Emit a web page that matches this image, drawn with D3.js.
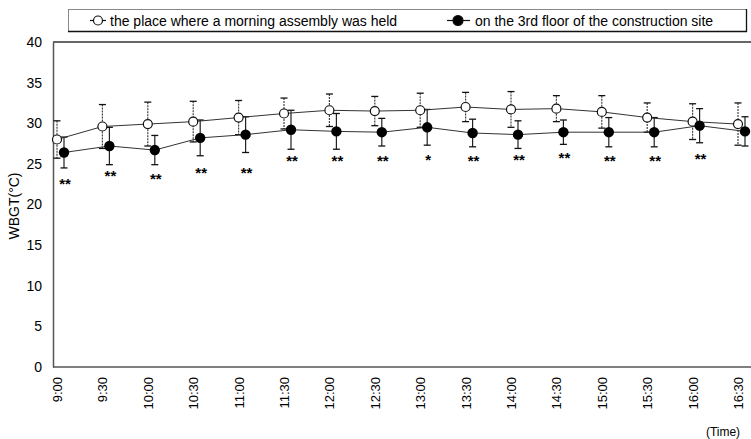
<!DOCTYPE html>
<html><head><meta charset="utf-8">
<script src="https://cdn.jsdelivr.net/npm/d3@7"></script>
<style>
html,body{margin:0;padding:0;background:#fff;}
svg{display:block;}
text{font-family:"Liberation Sans",Arial,sans-serif;fill:#000;}
</style></head>
<body>
<svg id="chart" width="751" height="439"></svg>
<script>
const times = ["9:00","9:30","10:00","10:30","11:00","11:30","12:00","12:30","13:00","13:30","14:00","14:30","15:00","15:30","16:00","16:30"];
const assemblyMean = [28.0,29.6,29.9,30.2,30.7,31.2,31.6,31.5,31.6,32.0,31.7,31.8,31.4,30.7,30.2,29.9];
const assemblySD   = [2.3,2.7,2.7,2.5,2.1,1.9,2.0,1.8,2.1,1.8,2.2,1.6,2.0,1.8,2.2,2.6];
const siteMean     = [26.4,27.2,26.7,28.2,28.6,29.2,29.0,28.9,29.5,28.8,28.6,28.9,28.9,28.9,29.7,29.0];
const siteSD       = [1.9,2.3,1.8,2.2,2.2,2.4,2.2,1.7,2.2,1.7,1.7,1.5,1.8,1.8,2.1,1.8];
const sigMarks     = ["**","**","**","**","**","**","**","**","*","**","**","**","**","**","**",""];
const sigLevel     = [22.9,23.9,23.5,24.2,24.2,25.7,25.7,25.7,25.8,25.7,25.8,26.1,25.7,25.7,26.0,0];
const yTicks = [0,5,10,15,20,25,30,35,40];
const seriesNames = ["the place where a morning assembly was held","on the 3rd floor of the construction site"];

const svg = d3.select("#chart");
const plotL = 53, plotR = 751, plotT = 42, plotB = 367;

const y = d3.scaleLinear().domain([0,40]).range([plotB, plotT]);
const x = d3.scalePoint().domain(times).range([57, 738]);
const offA = 0, offB = 7;

// Frame lines
svg.append("line").attr("x1",plotL).attr("x2",plotR).attr("y1",plotT).attr("y2",plotT)
  .attr("stroke","#666").attr("stroke-width",2);

// Y axis
const yAxis = d3.axisLeft(y).tickValues(yTicks).tickSize(0).tickPadding(11);
const gy = svg.append("g").attr("transform",`translate(${plotL},0)`).call(yAxis);
gy.select(".domain").attr("stroke","#555").attr("stroke-width",1.5);
gy.selectAll("text").attr("font-size",14).style("font-family","Liberation Sans, Arial, sans-serif");

// X axis
const xAxis = d3.axisBottom(x).tickSize(0).tickPadding(0);
const gx = svg.append("g").attr("transform",`translate(0,${plotB})`).call(xAxis);
gx.select(".domain").remove();
gx.selectAll("text")
  .attr("font-size",13)
  .style("font-family","Liberation Sans, Arial, sans-serif")
  .attr("text-anchor","end")
  .attr("dy","0.35em")
  .attr("transform","translate(0,10) rotate(-90)")
  .attr("x",0).attr("y",0);
svg.append("line").attr("x1",plotL).attr("x2",plotR).attr("y1",plotB).attr("y2",plotB)
  .attr("stroke","#555").attr("stroke-width",1.5);

// Y title
svg.append("text").attr("transform","translate(19,206) rotate(-90)")
  .attr("text-anchor","middle").attr("font-size",14).text("WBGT(°C)");
// X title
svg.append("text").attr("x",723).attr("y",436).attr("text-anchor","middle")
  .attr("font-size",12).text("(Time)");

const idx = d3.range(times.length);
const capW = 3.5;

function drawErr(g, mean, sd, off, color, dash){
  const eg = g.append("g");
  idx.forEach(i=>{
    const cx = x(times[i]) + off;
    const yt = y(mean[i]+sd[i]), yb = y(mean[i]-sd[i]);
    eg.append("line").attr("x1",cx).attr("x2",cx).attr("y1",yt).attr("y2",yb)
      .attr("stroke",color).attr("stroke-width",1.2).attr("stroke-dasharray",dash);
    [yt,yb].forEach(yy=>eg.append("line").attr("x1",cx-capW).attr("x2",cx+capW)
      .attr("y1",yy).attr("y2",yy).attr("stroke","#111").attr("stroke-width",1.3));
  });
}

const line = (mean, off) => d3.line().x(i=>x(times[i])+off).y(i=>y(mean[i]))(idx);

const g = svg.append("g");
drawErr(g, assemblyMean, assemblySD, offA, "#444", "2,1");
drawErr(g, siteMean, siteSD, offB, "#222", null);
g.append("path").attr("d", line(assemblyMean, offA)).attr("fill","none").attr("stroke","#333").attr("stroke-width",1);
g.append("path").attr("d", line(siteMean, offB)).attr("fill","none").attr("stroke","#333").attr("stroke-width",1);
g.selectAll("circle.a").data(idx).join("circle").attr("class","a")
  .attr("cx",i=>x(times[i])+offA).attr("cy",i=>y(assemblyMean[i])).attr("r",4.5)
  .attr("fill","#fff").attr("stroke","#111").attr("stroke-width",1.2);
g.selectAll("circle.b").data(idx).join("circle").attr("class","b")
  .attr("cx",i=>x(times[i])+offB).attr("cy",i=>y(siteMean[i])).attr("r",5.2)
  .attr("fill","#000");

// significance marks
g.selectAll("text.sig").data(idx.filter(i=>sigMarks[i])).join("text").attr("class","sig")
  .attr("x",i=>x(times[i])+offB+1).attr("y",i=>y(sigLevel[i])+8)
  .attr("text-anchor","middle").attr("font-size",15).attr("font-weight","bold")
  .attr("fill","#222")
  .text(i=>sigMarks[i]);

// Legend
const lg = svg.append("g");
lg.append("rect").attr("x",68.5).attr("y",9.5).attr("width",678).attr("height",22)
  .attr("fill","#fff").attr("stroke","#888").attr("stroke-width",1);
lg.append("line").attr("x1",68).attr("x2",747).attr("y1",31.5).attr("y2",31.5).attr("stroke","#111").attr("stroke-width",1.3);
lg.append("line").attr("x1",746.5).attr("x2",746.5).attr("y1",9).attr("y2",32).attr("stroke","#111").attr("stroke-width",1.3);
const legItems = [{lx:90, tx:110, fill:"#fff", r:4.5},{lx:447, tx:475, fill:"#000", r:5}];
legItems.forEach((it,k)=>{
  lg.append("line").attr("x1",it.lx).attr("x2",it.lx+(k?23:16)).attr("y1",20.5).attr("y2",20.5)
    .attr("stroke","#111").attr("stroke-width",1.2);
  lg.append("circle").attr("cx",it.lx+(k?11:8)).attr("cy",20.5).attr("r",it.r)
    .attr("fill",it.fill).attr("stroke","#111").attr("stroke-width",1.2);
  lg.append("text").attr("x",it.tx).attr("y",25.5).attr("font-size",14).text(seriesNames[k]);
});
</script>
</body></html>
